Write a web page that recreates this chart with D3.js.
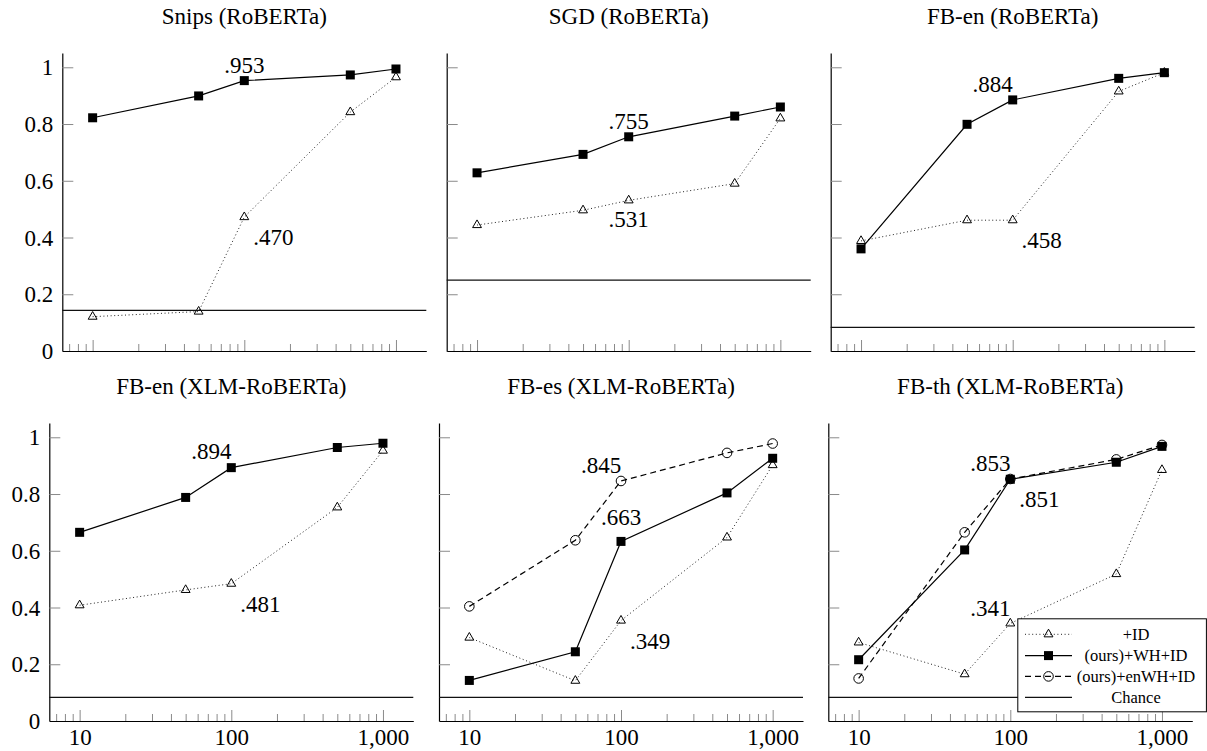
<!DOCTYPE html>
<html>
<head>
<meta charset="utf-8">
<script src="https://cdn.jsdelivr.net/npm/d3@7"></script>
<style>
  html, body { margin: 0; padding: 0; background: #fff; }
  svg { display: block; }
</style>
</head>
<body>
<svg id="chart" width="1207" height="751"></svg>
<script>
// ---------------- DATA ----------------
const xValues = [10, 50, 100, 500, 1000];
const titles = [
  "Snips (RoBERTa)", "SGD (RoBERTa)", "FB-en (RoBERTa)",
  "FB-en (XLM-RoBERTa)", "FB-es (XLM-RoBERTa)", "FB-th (XLM-RoBERTa)"
];
const idSeries = [
  [0.121, 0.139, 0.472, 0.842, 0.965],
  [0.444, 0.496, 0.531, 0.590, 0.820],
  [0.388, 0.461, 0.461, 0.915, 0.981],
  [0.408, 0.462, 0.484, 0.753, 0.953],
  [0.294, 0.142, 0.354, 0.647, 0.902],
  [0.277, 0.165, 0.344, 0.518, 0.885]
];
const whSeries = [
  [0.822, 0.899, 0.953, 0.973, 0.994],
  [0.628, 0.693, 0.755, 0.828, 0.860],
  [0.360, 0.799, 0.885, 0.961, 0.981],
  [0.665, 0.788, 0.893, 0.964, 0.979],
  [0.143, 0.244, 0.633, 0.804, 0.926],
  [0.216, 0.603, 0.852, 0.912, 0.968]
];
const enWhSeries = [
  null, null, null, null,
  [0.404, 0.637, 0.846, 0.945, 0.978],
  [0.150, 0.665, 0.853, 0.922, 0.973]
];
const chanceValues = [0.143, 0.25, 0.083, 0.083, 0.083, 0.083];
// annotations: label text, value, placement around (100, value)
const annotations = [
  [{t: ".953", v: 0.953, p: "n"}, {t: ".470", v: 0.470, p: "se"}],
  [{t: ".755", v: 0.755, p: "n"}, {t: ".531", v: 0.531, p: "s"}],
  [{t: ".884", v: 0.884, p: "nw"}, {t: ".458", v: 0.458, p: "se"}],
  [{t: ".894", v: 0.894, p: "nw"}, {t: ".481", v: 0.481, p: "se"}],
  [{t: ".845", v: 0.845, p: "nw"}, {t: ".663", v: 0.663, p: "n"}, {t: ".349", v: 0.349, p: "se"}],
  [{t: ".853", v: 0.853, p: "nw"}, {t: ".851", v: 0.851, p: "se"}, {t: ".341", v: 0.341, p: "nw"}]
];
const annotX = 100;
const yTickValues = [0, 0.2, 0.4, 0.6, 0.8, 1];
const yTickLabels = ["0", "0.2", "0.4", "0.6", "0.8", "1"];
const xTickValues = [10, 100, 1000];
const xTickLabels = ["10", "100", "1,000"];
const xMinorTicks = [7, 8, 9, 20, 30, 40, 50, 60, 70, 80, 90, 200, 300, 400, 500, 600, 700, 800, 900];
const legendLabels = ["+ID", "(ours)+WH+ID", "(ours)+enWH+ID", "Chance"];

// ---------------- LAYOUT ----------------
const FONT = '"Liberation Serif"';
const panelLeft = [62.3, 446.7, 830.7, 49.3, 439, 828.3];
const panelBottom = [351, 351, 351, 721, 721, 721];
const W = 364, H = 297.9;
const placeOffsets = { n: [0, -16], nw: [-20, -16], se: [29, 19], s: [0, 19] };

const svg = d3.select("#chart");

const xScale = d3.scaleLog().domain([Math.pow(10, 0.8), Math.pow(10, 3.2)]).range([0, W]);
const yScale = d3.scaleLinear().domain([0, 1.05]).range([H, 0]);

const lineGen = d3.line().x((d, i) => xScale(xValues[i])).y(d => yScale(d));

function drawMarker(g, type, x, y) {
  if (type === "square") {
    g.append("rect").attr("x", x - 4.5).attr("y", y - 4.5).attr("width", 9).attr("height", 9)
      .attr("fill", "#000");
  } else if (type === "triangle") {
    g.append("path").attr("d", d3.symbol(d3.symbolTriangle, 34)())
      .attr("transform", `translate(${x},${y})`)
      .attr("fill", "none").attr("stroke", "#000").attr("stroke-width", 1);
  } else if (type === "circle") {
    g.append("circle").attr("cx", x).attr("cy", y).attr("r", 4.8)
      .attr("fill", "none").attr("stroke", "#000").attr("stroke-width", 1);
  }
}

const styles = {
  id: {dash: "1,2.6", width: 1, marker: "triangle", color: "#222"},
  wh: {dash: null, width: 1.2, marker: "square", color: "#000"},
  en: {dash: "6,4", width: 1.2, marker: "circle", color: "#000"}
};

titles.forEach((title, pi) => {
  const top = panelBottom[pi] - H;
  const g = svg.append("g").attr("transform", `translate(${panelLeft[pi]},${top})`);
  const row = pi < 3 ? 0 : 1;
  const col = pi % 3;

  // title
  g.append("text").attr("x", W / 2).attr("y", -29.5).attr("text-anchor", "middle")
    .style("font-family", FONT).attr("font-size", 23).attr("fill", "#000").text(title);

  // y axis
  const yAxis = d3.axisLeft(yScale).tickValues(yTickValues)
    .tickFormat((d, i) => col === 0 ? yTickLabels[i] : "")
    .tickSizeInner(-11).tickSizeOuter(0).tickPadding(9);
  const ya = g.append("g").call(yAxis);
  ya.selectAll(".tick line").attr("stroke", "#8a8a8a").attr("stroke-width", 1);
  ya.selectAll(".tick text").style("font-family", FONT).attr("font-size", 23).attr("fill", "#000")
    .attr("dy", "0.33em");
  ya.select(".domain").attr("stroke", "#000").attr("stroke-width", 1.2);

  // x minor ticks
  const xMinor = d3.axisBottom(xScale).tickValues(xMinorTicks).tickFormat("")
    .tickSizeInner(-7).tickSizeOuter(0);
  const xm = g.append("g").attr("transform", `translate(0,${H})`).call(xMinor);
  xm.select(".domain").remove();
  xm.selectAll(".tick line").attr("stroke", "#8a8a8a").attr("stroke-width", 1);

  // x major axis
  const xAxis = d3.axisBottom(xScale).tickValues(xTickValues)
    .tickFormat((d, i) => row === 1 ? xTickLabels[i] : "")
    .tickSizeInner(-11).tickSizeOuter(0).tickPadding(8);
  const xa = g.append("g").attr("transform", `translate(0,${H})`).call(xAxis);
  xa.selectAll(".tick line").attr("stroke", "#8a8a8a").attr("stroke-width", 1);
  xa.selectAll(".tick text").style("font-family", FONT).attr("font-size", 23).attr("fill", "#000")
    .attr("dy", "0.7em");
  xa.select(".domain").attr("stroke", "#000").attr("stroke-width", 1.2);

  // series
  const seriesList = [
    {vals: idSeries[pi], st: styles.id},
    {vals: whSeries[pi], st: styles.wh},
    {vals: enWhSeries[pi], st: styles.en}
  ];
  seriesList.forEach(s => {
    if (!s.vals) return;
    g.append("path").attr("d", lineGen(s.vals)).attr("fill", "none")
      .attr("stroke", s.st.color).attr("stroke-width", s.st.width)
      .attr("stroke-dasharray", s.st.dash);
    s.vals.forEach((v, i) => drawMarker(g, s.st.marker, xScale(xValues[i]), yScale(v)));
  });

  // chance line
  g.append("line").attr("x1", 0).attr("x2", W)
    .attr("y1", yScale(chanceValues[pi])).attr("y2", yScale(chanceValues[pi]))
    .attr("stroke", "#111").attr("stroke-width", 1.2);

  // annotations
  annotations[pi].forEach(a => {
    const off = placeOffsets[a.p];
    g.append("text").attr("x", xScale(annotX) + off[0]).attr("y", yScale(a.v) + off[1])
      .attr("dy", "0.35em").attr("text-anchor", "middle")
      .style("font-family", FONT).attr("font-size", 23).attr("fill", "#000").text(a.t);
  });
});

// ---------------- LEGEND ----------------
const lg = svg.append("g");
lg.append("rect").attr("x", 1017.8).attr("y", 618.8).attr("width", 188.6).attr("height", 93)
  .attr("fill", "#fff").attr("stroke", "#000").attr("stroke-width", 1);
const legendRowsY = [634.3, 655.6, 676.4, 697.3];
const legendStyles = [styles.id, styles.wh, styles.en, {dash: null, width: 1.2, marker: null, color: "#111"}];
legendLabels.forEach((lab, i) => {
  const y = legendRowsY[i];
  const st = legendStyles[i];
  lg.append("line").attr("x1", 1025).attr("x2", 1072).attr("y1", y).attr("y2", y)
    .attr("stroke", st.color).attr("stroke-width", st.width).attr("stroke-dasharray", st.dash);
  if (st.marker) drawMarker(lg, st.marker, 1048.5, y);
  lg.append("text").attr("x", 1136).attr("y", y).attr("dy", "0.33em").attr("text-anchor", "middle")
    .style("font-family", FONT).attr("font-size", 16.5).attr("fill", "#000").text(lab);
});
</script>
</body>
</html>
